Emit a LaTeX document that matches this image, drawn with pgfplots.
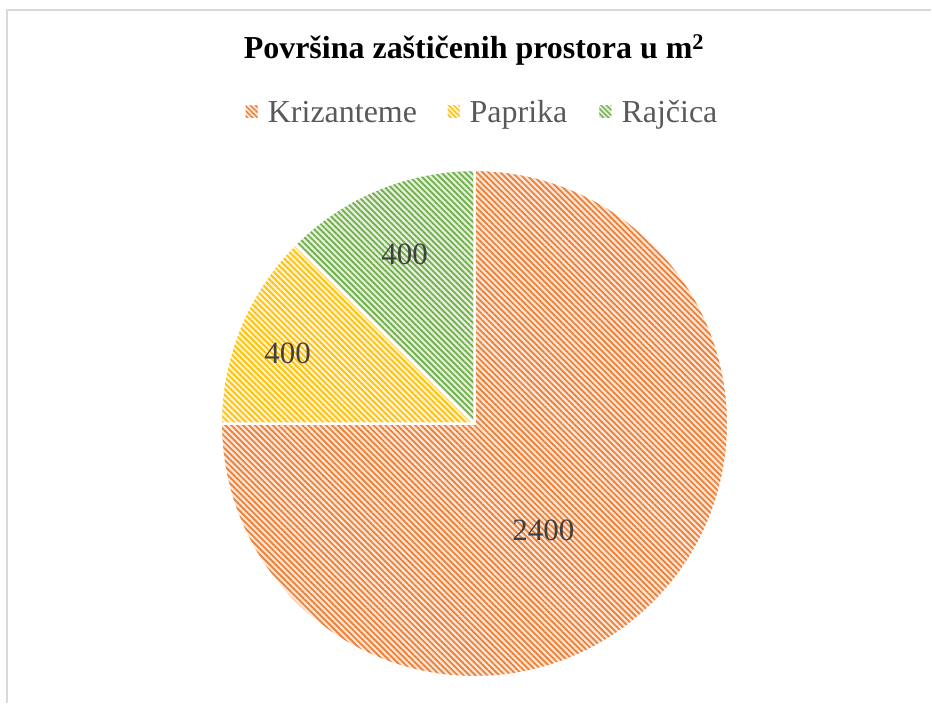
\documentclass[border=0pt]{standalone}
\usepackage{fontspec}
\setmainfont{Liberation Serif}
\usepackage{pgfplots}
\usepackage{pgfplotstable}
\pgfplotsset{compat=1.18}
\usetikzlibrary{patterns.meta}

\definecolor{orline}{RGB}{237,125,49}
\definecolor{orbg}{RGB}{252,228,214}
\definecolor{yeline}{RGB}{255,192,0}
\definecolor{yebg}{RGB}{255,242,204}
\definecolor{grline}{RGB}{112,173,71}
\definecolor{grbg}{RGB}{226,239,218}
\definecolor{legtext}{RGB}{89,89,89}
\definecolor{labtext}{RGB}{64,64,64}
\definecolor{frame}{RGB}{217,217,217}

% slice, value, label position (x, y in picture units)
\pgfplotstableread{
slice value lx ly
0 2400 544 173
1 400 288 350
2 400 405 449
}\piedata

\tikzset{
  slice/.style 2 args={preaction={fill=#1},
    pattern={Lines[angle=-45,distance=4.2pt,line width=1.7pt]},
    pattern color=#2, draw=white, line width=2.5pt, line join=round},
  legsq/.style 2 args={preaction={fill=#1},
    pattern={Lines[angle=-45,distance=3.6pt,line width=1.4pt]},
    pattern color=#2},
}

\begin{document}
\begin{tikzpicture}
\pgfplotstablegetelem{0}{value}\of\piedata\edef\vA{\pgfplotsretval}
\pgfplotstablegetelem{1}{value}\of\piedata\edef\vB{\pgfplotsretval}
\pgfplotstablegetelem{2}{value}\of\piedata\edef\vC{\pgfplotsretval}
\pgfmathsetmacro\tot{\vA+\vB+\vC}
\pgfmathsetmacro\fA{\vA/\tot}
\pgfmathsetmacro\fB{\vB/\tot}
\pgfmathsetmacro\fC{\vC/\tot}
\pgfmathsetmacro\aB{90-360*\fA}
\pgfmathsetmacro\aC{\aB-360*\fB}
\pgfmathsetmacro\aD{\aC-360*\fC}
\begin{axis}[
  at={(0pt,0pt)}, anchor=south west,
  scale only axis, width=932pt, height=704pt,
  xmin=0, xmax=932, ymin=0, ymax=704,
  hide axis, clip=false,
]
\path (axis cs:0,0) rectangle (axis cs:932,704);
% frame (partly visible)
\draw[frame, line width=2pt] (axis cs:7.5,0) -- (axis cs:7.5,693.5) -- (axis cs:932,693.5);

% title
\node[anchor=base, font=\fontsize{32}{36}\selectfont\bfseries] at (axis cs:474.5,645)
  {Površina zaštičenih prostora u m\textsuperscript{2}};

% legend
\path[legsq={orbg}{orline}] (axis cs:246,586) rectangle (axis cs:258,598);
\node[anchor=base west, inner sep=0pt, text=legtext, font=\fontsize{32}{36}\selectfont] at (axis cs:268,581) {Krizanteme};
\path[legsq={yebg}{yeline}] (axis cs:448,586) rectangle (axis cs:460,598);
\node[anchor=base west, inner sep=0pt, text=legtext, font=\fontsize{32}{36}\selectfont] at (axis cs:470,581) {Paprika};
\path[legsq={grbg}{grline}] (axis cs:600,586) rectangle (axis cs:612,598);
\node[anchor=base west, inner sep=0pt, text=legtext, font=\fontsize{32}{36}\selectfont] at (axis cs:622,581) {Rajčica};

% pie slices
\path[slice={orbg}{orline}] (axis cs:475,280) -- +(90:254pt) arc[start angle=90, end angle=\aB, radius=254pt] -- cycle;
\path[slice={yebg}{yeline}] (axis cs:475,280) -- +(\aB:254pt) arc[start angle=\aB, end angle=\aC, radius=254pt] -- cycle;
\path[slice={grbg}{grline}] (axis cs:475,280) -- +(\aC:254pt) arc[start angle=\aC, end angle=\aD, radius=254pt] -- cycle;

% data labels
\addplot[only marks, mark=none, nodes near coords, point meta=explicit symbolic,
  nodes near coords style={anchor=center, text=labtext, font=\fontsize{31}{34}\selectfont}]
  table[x=lx, y=ly, meta=value] {\piedata};
\end{axis}
\end{tikzpicture}
\end{document}
